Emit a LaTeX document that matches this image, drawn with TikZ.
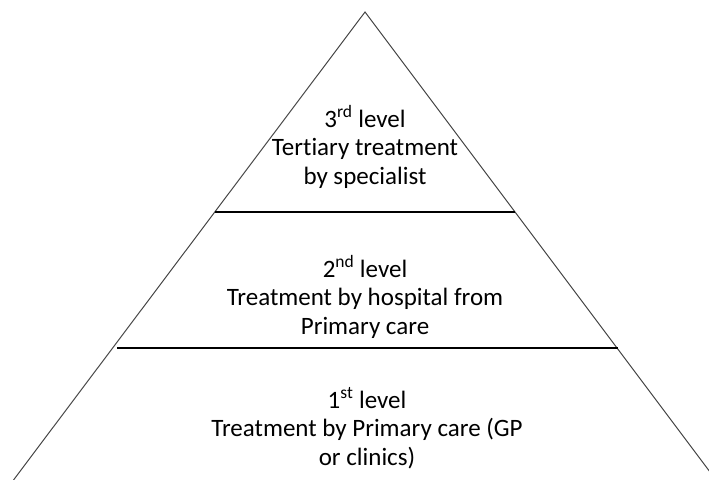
\documentclass[tikz,border=0pt]{standalone}
\usepackage{fontspec}
\setmainfont{Carlito}[Ligatures=NoCommon]
\begin{document}
\begin{tikzpicture}[x=1pt,y=-1pt,
  side/.style={draw=black!72, line width=1pt, line join=miter},
  divider/.style={draw=black, line width=2.4pt},
  lbl/.style={align=center, font=\fontsize{25}{28.5}\selectfont, inner sep=0pt, anchor=base}]
\useasboundingbox (0,0) rectangle (709,479);
\clip (0,0) rectangle (709,479);
\coordinate (apex) at (365,12);
\coordinate (bl) at (13.5,480);
\coordinate (br) at (716,480);
\draw[side] (bl) -- (apex) -- (br);
\coordinate (d1l) at (215,212);
\coordinate (d1r) at (515,212);
\coordinate (d2l) at (117,348);
\coordinate (d2r) at (618,348);
\draw[divider] (d1l) -- (d1r);
\draw[divider] (d2l) -- (d2r);
\node[lbl] (lev3) at (365,184) {3\textsuperscript{rd} level\\Tertiary treatment\\by specialist};
\node[lbl] (lev2) at (365,334) {2\textsuperscript{nd} level\\Treatment by hospital from\\Primary care};
\node[lbl] (lev1) at (367,465) {1\textsuperscript{st} level\\Treatment by Primary care (GP\\or clinics)};
\end{tikzpicture}
\end{document}
